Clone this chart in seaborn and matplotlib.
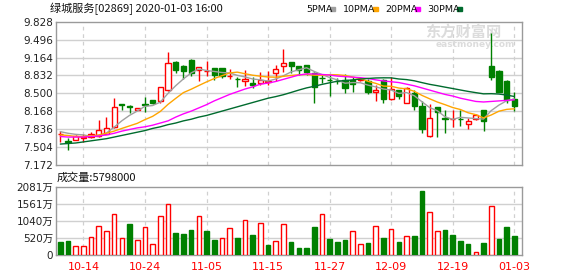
import numpy as np
import pandas as pd
import matplotlib
matplotlib.use("Agg")
import matplotlib.pyplot as plt
import seaborn as sns

# ---------------- data ----------------
dates = ["10-09", "10-10", "10-11", "10-14", "10-15", "10-16", "10-17", "10-18", "10-21", "10-22",
         "10-23", "10-24", "10-25", "10-28", "10-29", "10-30", "10-31", "11-01", "11-04", "11-05",
         "11-06", "11-07", "11-08", "11-11", "11-12", "11-13", "11-14", "11-15", "11-18", "11-19",
         "11-20", "11-21", "11-22", "11-25", "11-26", "11-27", "11-28", "11-29", "12-02", "12-03",
         "12-04", "12-05", "12-06", "12-09", "12-10", "12-11", "12-12", "12-13", "12-16", "12-17",
         "12-18", "12-19", "12-20", "12-23", "12-24", "12-27", "12-30", "12-31", "01-02", "01-03"]
open_ = [7.74, 7.61, 7.64, 7.68, 7.69, 7.71, 7.75, 7.87, 8.30, 8.26,
         8.20, 8.30, 8.38, 8.35, 8.56, 9.09, 9.00, 9.12, 8.93, 8.91,
         8.97, 8.97, 8.82, 8.77, 8.72, 8.70, 8.70, 8.71, 8.88, 9.01,
         9.08, 9.01, 9.03, 8.88, 8.79, 8.75, 8.73, 8.75, 8.74, 8.75,
         8.72, 8.52, 8.75, 8.39, 8.56, 8.33, 8.51, 8.27, 7.71, 8.24,
         8.04, 8.02, 8.03, 7.93, 8.02, 8.19, 9.01, 8.91, 8.72, 8.39]
high = [7.81, 7.67, 7.72, 7.75, 7.78, 8.01, 8.06, 8.41, 8.30, 8.28,
        8.23, 8.44, 8.38, 8.62, 9.27, 9.10, 9.03, 9.13, 8.98, 9.10,
        8.97, 8.97, 8.96, 8.81, 8.93, 8.81, 8.89, 8.91, 9.02, 9.32,
        9.08, 9.01, 9.03, 8.89, 8.84, 8.85, 8.78, 8.86, 8.81, 8.78,
        8.76, 8.66, 8.76, 8.80, 8.57, 8.62, 8.56, 8.36, 8.30, 8.25,
        8.19, 8.19, 8.19, 8.04, 8.12, 8.20, 9.61, 8.93, 8.74, 8.53]
low = [7.60, 7.45, 7.63, 7.59, 7.67, 7.70, 7.74, 7.85, 8.19, 8.13,
       8.19, 8.16, 8.31, 8.33, 8.55, 8.88, 8.76, 8.82, 8.72, 8.82,
       8.75, 8.79, 8.77, 8.61, 8.64, 8.59, 8.66, 8.66, 8.72, 8.90,
       8.87, 8.84, 8.84, 8.32, 8.70, 8.45, 8.68, 8.51, 8.53, 8.72,
       8.49, 8.35, 8.32, 8.38, 8.40, 8.32, 8.20, 7.76, 7.70, 7.70,
       7.76, 7.87, 7.89, 7.84, 8.01, 7.81, 8.75, 8.52, 8.32, 8.17]
close = [7.75, 7.60, 7.71, 7.70, 7.75, 7.82, 7.85, 8.25, 8.29, 8.25,
         8.22, 8.29, 8.32, 8.61, 9.06, 8.93, 8.92, 8.87, 8.98, 8.92,
         8.84, 8.82, 8.83, 8.76, 8.77, 8.65, 8.74, 8.72, 8.95, 9.07,
         9.01, 8.94, 8.90, 8.61, 8.78, 8.74, 8.72, 8.59, 8.67, 8.76,
         8.52, 8.56, 8.39, 8.58, 8.45, 8.59, 8.27, 7.83, 8.04, 8.16,
         8.03, 8.03, 8.02, 7.98, 8.10, 7.99, 8.81, 8.53, 8.38, 8.27]

ma5 = [7.79, 7.76, 7.74, 7.73, 7.702, 7.716, 7.766, 7.874, 7.992, 8.092,
       8.172, 8.26, 8.274, 8.338, 8.50, 8.642, 8.768, 8.878, 8.952, 8.924,
       8.906, 8.886, 8.878, 8.834, 8.804, 8.766, 8.75, 8.728, 8.766, 8.826,
       8.898, 8.938, 8.974, 8.906, 8.848, 8.794, 8.75, 8.688, 8.70, 8.696,
       8.652, 8.62, 8.58, 8.562, 8.50, 8.514, 8.456, 8.344, 8.236, 8.178,
       8.066, 8.018, 8.056, 8.044, 8.032, 8.024, 8.18, 8.282, 8.362, 8.396]
ma10 = [7.73, 7.72, 7.70, 7.70, 7.71, 7.73, 7.76, 7.80, 7.85, 7.897,
        7.944, 8.013, 8.074, 8.165, 8.296, 8.407, 8.514, 8.576, 8.645, 8.712,
        8.774, 8.827, 8.878, 8.893, 8.864, 8.836, 8.818, 8.803, 8.80, 8.815,
        8.832, 8.844, 8.851, 8.836, 8.837, 8.846, 8.844, 8.831, 8.803, 8.772,
        8.723, 8.685, 8.634, 8.631, 8.598, 8.583, 8.538, 8.462, 8.399, 8.339,
        8.29, 8.237, 8.20, 8.14, 8.105, 8.045, 8.099, 8.169, 8.203, 8.214]
ma20 = [7.70, 7.69, 7.69, 7.69, 7.70, 7.71, 7.73, 7.76, 7.80, 7.83,
        7.86, 7.88, 7.91, 7.95, 7.99, 8.06, 8.12, 8.17, 8.23, 8.29,
        8.36, 8.42, 8.48, 8.53, 8.58, 8.62, 8.67, 8.69, 8.72, 8.76,
        8.80, 8.84, 8.86, 8.86, 8.85, 8.84, 8.82, 8.81, 8.80, 8.79,
        8.775, 8.75, 8.73, 8.715, 8.70, 8.67, 8.64, 8.60, 8.56, 8.52,
        8.48, 8.45, 8.41, 8.38, 8.35, 8.34, 8.35, 8.36, 8.37, 8.38]
ma30 = [7.56, 7.57, 7.58, 7.60, 7.62, 7.64, 7.66, 7.69, 7.72, 7.75,
        7.78, 7.81, 7.85, 7.88, 7.92, 7.95, 7.99, 8.02, 8.06, 8.09,
        8.13, 8.17, 8.21, 8.25, 8.29, 8.33, 8.37, 8.41, 8.44, 8.475,
        8.517, 8.561, 8.601, 8.631, 8.666, 8.696, 8.725, 8.737, 8.749, 8.766,
        8.776, 8.785, 8.788, 8.787, 8.766, 8.755, 8.733, 8.699, 8.667, 8.642,
        8.615, 8.589, 8.562, 8.536, 8.513, 8.491, 8.494, 8.487, 8.468, 8.442]

# volume in 万 (10k shares)
volume = [396, 426, 264, 264, 538, 873, 720, 1248, 507, 944,
          447, 842, 335, 1208, 1573, 670, 639, 761, 1208, 731,
          457, 507, 812, 518, 1086, 609, 964, 305, 426, 934,
          396, 213, 213, 853, 1248, 487, 406, 457, 720, 325,
          365, 873, 518, 781, 396, 568, 579, 1949, 1330, 720,
          761, 609, 426, 335, 81, 365, 1512, 487, 853, 579.8]
vol_up = [0, 0, 1, 1, 1, 1, 1, 1, 1, 0,
          1, 1, 1, 1, 1, 0, 0, 0, 1, 0,
          0, 1, 1, 0, 1, 0, 1, 0, 1, 1,
          0, 0, 0, 0, 1, 0, 0, 0, 1, 1,
          0, 1, 0, 1, 0, 1, 0, 0, 1, 1,
          0, 0, 0, 0, 1, 0, 1, 0, 0, 0]

price_ticks = [7.172, 7.504, 7.836, 8.168, 8.500, 8.832, 9.164, 9.496, 9.828]
vol_ticks = [0, 520, 1040, 1561, 2081]
vol_tick_labels = ["0", "520万", "1040万", "1561万", "2081万"]
label_idx = [3, 11, 19, 27, 35, 43, 51, 59]

title_text = "绿城服务[02869] 2020-01-03 16:00"
vol_text = "成交量:5798000"
ma_names = ["5PMA", "10PMA", "20PMA", "30PMA"]

# ---------------- style ----------------
sns.set_style("white")
plt.rcParams["font.family"] = ["DejaVu Sans", "Noto Sans CJK SC"]

RED = "#ff0000"
GREEN = "#008000"
ma_colors = {"5PMA": "#a0a0a0", "10PMA": "#ffa500", "20PMA": "#ff00ff", "30PMA": "#006b2e"}
GRID = "#d0d0d0"
FRAME = "#9a9a9a"

W, H = 578, 276
fig = plt.figure(figsize=(W / 100, H / 100), dpi=100)
ax = fig.add_axes([56 / W, 1 - 165 / H, 466 / W, 143.3 / H])
axv = fig.add_axes([56 / W, 1 - 255 / H, 466 / W, 68 / H])

x = np.arange(len(dates))
o = np.array(open_); c = np.array(close); hi = np.array(high); lo = np.array(low)
up = c >= o

for a in (ax, axv):
    for s in a.spines.values():
        s.set_color(FRAME)
        s.set_linewidth(1.0)
    a.set_xlim(-0.56, 60.0)
    a.tick_params(length=0, labelsize=7.5, colors="#222222", pad=2)
    for i in label_idx:
        a.axvline(i, color=GRID, lw=0.9, ls=(0, (3, 3)), zorder=0)

# price grid
ax.set_ylim(price_ticks[0], price_ticks[-1])
ax.set_yticks(price_ticks)
ax.set_yticklabels([f"{t:.3f}" for t in price_ticks])
for t in price_ticks[1:-1]:
    ax.axhline(t, color=GRID, lw=1.0, zorder=0)
ax.set_xticks([])

# watermark
ax.text(0.955, 0.93, "东方财富网", transform=ax.transAxes, ha="right", va="center",
        fontsize=11, color="#dcdcdc", family=["Noto Sans CJK SC"], fontweight="bold", zorder=0)
ax.text(0.985, 0.84, "eastmoney.com", transform=ax.transAxes, ha="right", va="center",
        fontsize=6.5, color="#dcdcdc", fontweight="bold", zorder=0)

# candles
ccol = np.where(up, RED, GREEN)
ax.vlines(x, lo, hi, colors=ccol, lw=1.0, zorder=2)
body_bottom = np.minimum(o, c)
body_h = np.maximum(np.abs(c - o), 0.004)
ax.bar(x, body_h, bottom=body_bottom, width=0.68,
       color=np.where(up, "white", GREEN), edgecolor=ccol, linewidth=1.0, zorder=3)

# moving averages with seaborn
ma_df = pd.DataFrame({"i": np.tile(x, 4),
                      "v": np.concatenate([ma5, ma10, ma20, ma30]),
                      "ma": np.repeat(ma_names, len(x))})
sns.lineplot(data=ma_df, x="i", y="v", hue="ma", palette=ma_colors, ax=ax,
             legend=False, lw=1.0, zorder=4)
ax.set_xlabel(""); ax.set_ylabel("")

# volume
axv.set_ylim(0, 2081)
axv.set_yticks(vol_ticks)
axv.set_yticklabels(vol_tick_labels)
for t in vol_ticks[1:-1]:
    axv.axhline(t, color=GRID, lw=1.0, zorder=0)
vu = np.array(vol_up, dtype=bool)
vcol = np.where(vu, RED, GREEN)
axv.bar(x, volume, width=0.6, color=np.where(vu, "white", GREEN),
        edgecolor=vcol, linewidth=1.0, zorder=3)
axv.set_xticks(label_idx)
axv.set_xticklabels([dates[i] for i in label_idx], color=RED, fontsize=8)
axv.tick_params(axis="x", pad=5, colors=RED)

# header texts
def ftext(px, py, s, **kw):
    fig.text(px / W, 1 - py / H, s, **kw)

ftext(50, 9, title_text, ha="left", va="center", fontsize=8,
      family=["Noto Sans CJK SC", "DejaVu Sans"], color="#111111")
leg_x = [306, 343, 385, 427]
sq_x = [330, 373, 415, 457]
for name, lx, sx in zip(ma_names, leg_x, sq_x):
    ftext(lx, 9, name, ha="left", va="center", fontsize=6.8, color="#111111")
    fig.patches.append(plt.Rectangle((sx / W, 1 - 10.5 / H), 5 / W, 3 / H,
                                     transform=fig.transFigure, color=ma_colors[name]))
ftext(57, 177.5, vol_text, ha="left", va="center", fontsize=8,
      family=["Noto Sans CJK SC", "DejaVu Sans"], color="#111111")

fig.savefig("out.png", dpi=100)
